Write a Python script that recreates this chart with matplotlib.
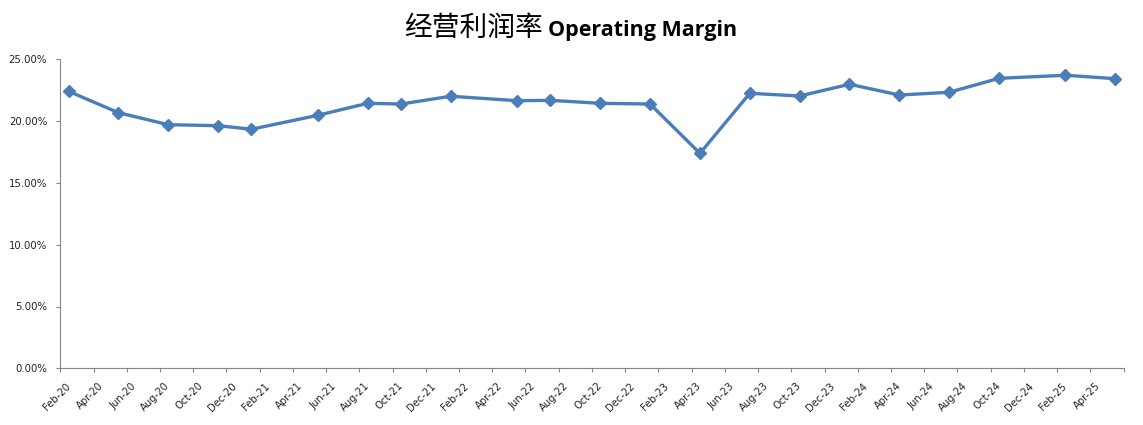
import pandas as pd
import matplotlib
matplotlib.use("Agg")
import matplotlib.pyplot as plt
from matplotlib.ticker import FuncFormatter

# data (operating margin, %)
dates = ['2020-02', '2020-05', '2020-08', '2020-11', '2021-01', '2021-05',
         '2021-08', '2021-10', '2022-01', '2022-05', '2022-07', '2022-10',
         '2023-01', '2023-04', '2023-07', '2023-10', '2024-01', '2024-04',
         '2024-07', '2024-10', '2025-02', '2025-05']
margin = [22.41, 20.68, 19.71, 19.63, 19.34, 20.47,
          21.44, 21.38, 22.01, 21.65, 21.68, 21.44,
          21.38, 17.39, 22.25, 22.03, 22.98, 22.11,
          22.33, 23.46, 23.71, 23.43]

axis_start = '2020-02'
axis_end = '2025-05'
y_ticks = [0, 5, 10, 15, 20, 25]

title_cn = '经营利润率'
title_en = 'Operating Margin'

# excel style date axis: one slot per month, point in the middle of its slot
start = pd.Period(axis_start, freq='M')
n_months = (pd.Period(axis_end, freq='M') - start).n + 1
x = [(pd.Period(d, freq='M') - start).n + 0.5 for d in dates]

label_periods = pd.period_range(axis_start, axis_end, freq='M')[::2]
tick_labels = [p.strftime('%b-%y') for p in label_periods]
label_pos = [(p - start).n + 0.5 for p in label_periods]

fig = plt.figure(figsize=(11.43, 4.25), dpi=100)
ax = fig.add_axes([60.3 / 1143, 1 - 368.3 / 425, (1123.6 - 60.3) / 1143, (368.3 - 59.3) / 425])

ax.plot(x, margin, color='#4A7EBB', lw=2.4, marker='D', ms=6.5,
        markeredgecolor='#4A7EBB', markerfacecolor='#4A7EBB', clip_on=False)

ax.set_xlim(0, n_months)
ax.set_ylim(0, 25)

# boundaries every 2 months get the tick marks, labels sit on the month slot
ax.set_xticks(range(0, n_months + 1, 2))
ax.set_xticklabels([])
ax.set_xticks(label_pos, minor=True)
ax.set_xticklabels(tick_labels, minor=True, rotation=45, ha='right',
                   va='center', rotation_mode='anchor', fontsize=7.3, color='#222222')
ax.tick_params(axis='x', which='minor', length=0, pad=11.5)
ax.tick_params(axis='x', which='major', length=3, width=0.8, color='#868686', direction='out')

ax.set_yticks(y_ticks)
ax.yaxis.set_major_formatter(FuncFormatter(lambda v, p: '%.2f%%' % v))
ax.tick_params(axis='y', length=3, width=0.8, color='#868686', direction='out',
               pad=6.5, labelsize=7.3, labelcolor='#222222')

for s in ['top', 'right']:
    ax.spines[s].set_visible(False)
for s in ['left', 'bottom']:
    ax.spines[s].set_color('#868686')
    ax.spines[s].set_linewidth(0.8)

# title: chinese part plain, english part bold
fig.text(543 / 1143, 1 - 36 / 425, title_cn, ha='right', va='baseline',
         fontsize=20, family=['Noto Sans CJK SC', 'DejaVu Sans'], color='black')
fig.text(548 / 1143, 1 - 36 / 425, title_en, ha='left', va='baseline',
         fontsize=15.5, fontweight='bold', family=['Open Sans', 'DejaVu Sans'], color='black')

fig.savefig('out.png', dpi=100)
